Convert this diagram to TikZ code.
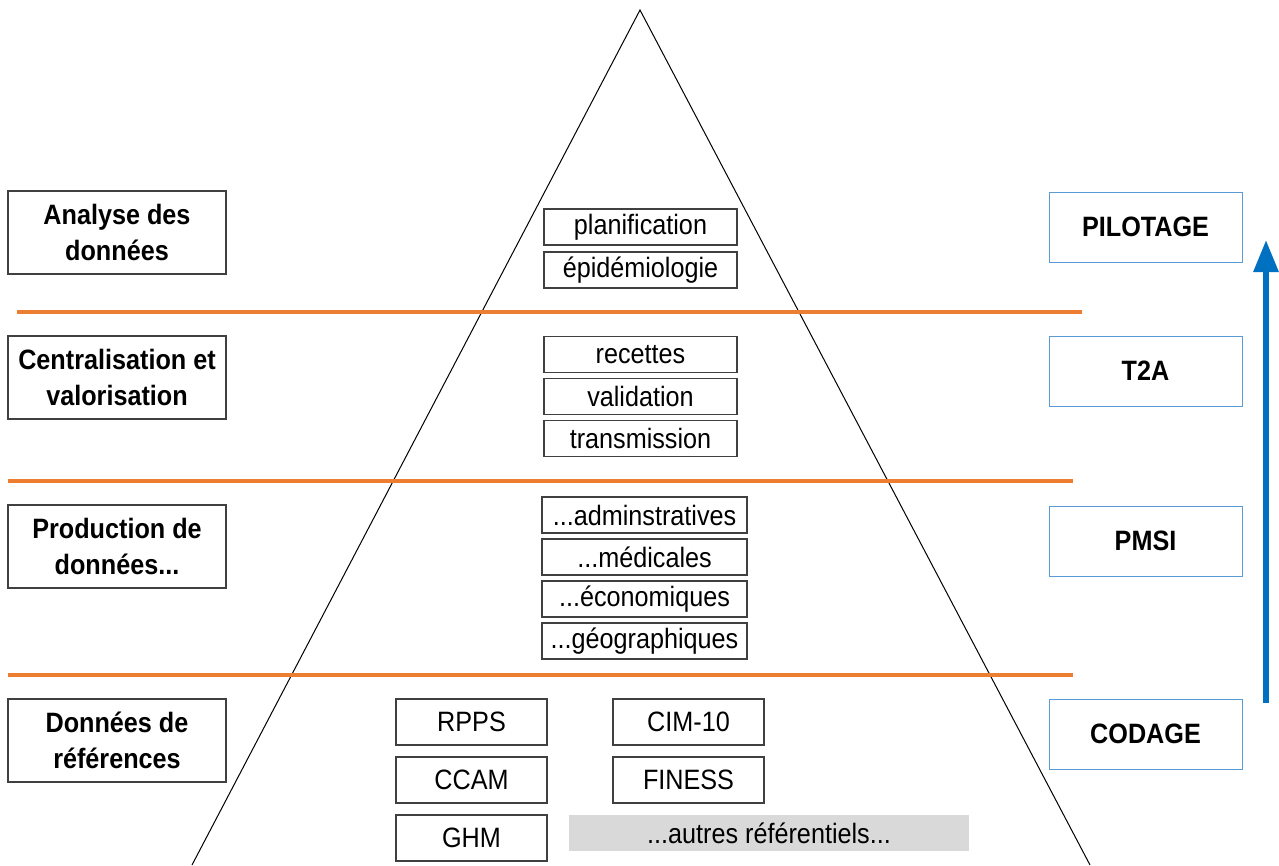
\documentclass[tikz,border=0pt]{standalone}
\usepackage{fontspec}
\setmainfont{Liberation Sans}[FakeStretch=0.9]
\usetikzlibrary{arrows.meta}
\definecolor{orangeline}{HTML}{ED7D31}
\definecolor{bluebox}{HTML}{5B9BD5}
\definecolor{bluearrow}{HTML}{0070C0}
\definecolor{grayref}{HTML}{D9D9D9}
\newcommand{\threedots}{...}
\tikzstyle{level}=[draw=black!75, line width=1.2pt, fill=white, minimum width=218pt, minimum height=83pt, inner sep=0pt, align=center, font=\bfseries\fontsize{28}{36}\selectfont]
\tikzstyle{stage}=[draw=bluebox, line width=1pt, fill=white, minimum width=193pt, minimum height=70pt, inner sep=0pt, font=\bfseries\fontsize{28}{34}\selectfont]
\tikzstyle{item}=[draw=black!75, line width=1.2pt, fill=white, minimum height=36pt, inner sep=0pt, font=\fontsize{28}{34}\selectfont]
\tikzstyle{sep}=[orangeline, line width=3.5pt]

\begin{document}
\begin{tikzpicture}[x=1pt, y=-1pt]
	\useasboundingbox (0,0) rectangle (1279,865);
	%pyramid
	\coordinate (apex) at (640,10);
	\coordinate (base left) at (192,865);
	\coordinate (base right) at (1090,865);
	\draw[line width=1pt] (base left) -- (apex) -- (base right);
	%separators
	\coordinate (s1a) at (17,312);  \coordinate (s1b) at (1082,312);
	\coordinate (s2a) at (8,481);   \coordinate (s2b) at (1073,481);
	\coordinate (s3a) at (8,675);   \coordinate (s3b) at (1073,675);
	\draw[sep] (s1a) -- (s1b);
	\draw[sep] (s2a) -- (s2b);
	\draw[sep] (s3a) -- (s3b);
	%levels
	\node[level] (analyse) at (117,232.5) {Analyse des\\données};
	\node[level] (central) at (117,377.5) {Centralisation et\\valorisation};
	\node[level] (prod) at (117,546.5) {Production de\\données...};
	\node[level] (ref) at (117,740.5) {Données de\\références};
	%stages
	\node[stage] (pilotage) at (1145.5,227) {PILOTAGE};
	\node[stage] (t2a) at (1145.5,371) {T2A};
	\node[stage] (pmsi) at (1145.5,541) {PMSI};
	\node[stage] (codage) at (1145.5,734) {CODAGE};
	%arrow
	\coordinate (arrow start) at (1266,703);
	\coordinate (arrow end) at (1266,240);
	\draw[bluearrow, line width=6pt, -{Triangle[width=24pt,length=32pt]}] (arrow start) -- (arrow end);
	%items
	\foreach \name/\txt/\y in {
		plan/planification/227,
		epid/épidémiologie/270,
		rec/recettes/354.5,
		valid/validation/396.5,
		trans/transmission/438.5
	}
	\node[item, minimum width=193pt] (\name) at (640.5,\y) {\txt};
	\foreach \name/\txt/\y in {
		adm/adminstratives/515,
		med/médicales/557,
		eco/économiques/599,
		geo/géographiques/641
	}
	\node[item, minimum width=205pt] (\name) at (644.5,\y) {\threedots\txt};
	%referentials
	\foreach \name/\txt/\x/\y in {
		rpps/RPPS/471.5/722,
		cim/CIM-10/688.5/722,
		ccam/CCAM/471.5/780,
		finess/FINESS/688.5/780,
		ghm/GHM/471.5/838
	}
	\node[item, minimum width=151pt, minimum height=46pt] (\name) at (\x,\y) {\txt};
	\node[item, draw=none, fill=grayref, minimum width=400pt] (autres) at (769,833) {...autres référentiels...};
\end{tikzpicture}
\end{document}
